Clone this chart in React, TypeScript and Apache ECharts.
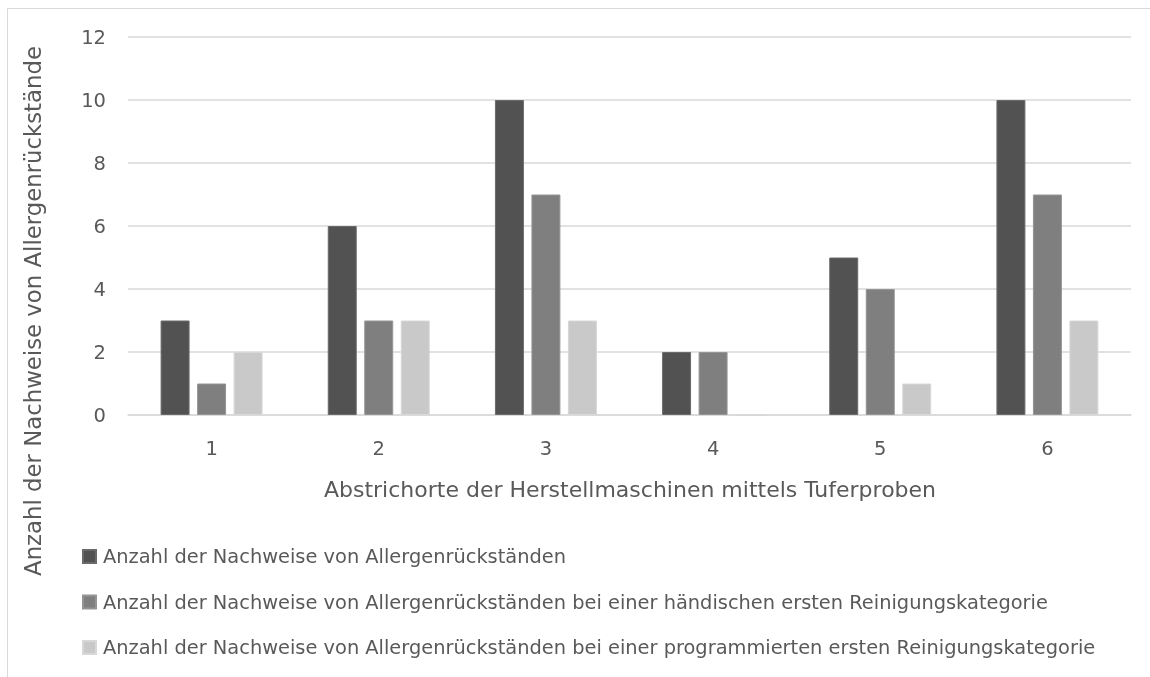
import React, { useEffect, useRef } from "react";
import * as echarts from "echarts";

const categories = ["1", "2", "3", "4", "5", "6"];
const seriesNames = [
  "Anzahl der Nachweise von Allergenrückständen",
  "Anzahl der Nachweise von Allergenrückständen bei einer händischen ersten Reinigungskategorie",
  "Anzahl der Nachweise von Allergenrückständen bei einer programmierten ersten Reinigungskategorie",
];
const totalValues = [3, 6, 10, 2, 5, 10];
const manualValues = [1, 3, 7, 2, 4, 7];
const programmedValues = [2, 3, 3, 0, 1, 3];
const seriesColors = ["#525252", "#7f7f7f", "#c9c9c9"];
const borderColors = ["#6a6a6a", "#959595", "#d8d8d8"];

const yAxisTitle = "Anzahl der Nachweise von Allergenrückstände";
const xAxisTitle = "Abstrichorte der Herstellmaschinen mittels Tuferproben";

const FONT = "'DejaVu Sans', sans-serif";
const TEXT = "#595959";

export default function App() {
  const ref = useRef<HTMLDivElement>(null);

  useEffect(() => {
    if (!ref.current) return;
    const chart = echarts.init(ref.current, undefined, { renderer: "svg" });
    const values = [totalValues, manualValues, programmedValues];
    chart.setOption({
      animation: false,
      textStyle: { fontFamily: FONT },
      grid: { left: 128, right: 19, top: 37, bottom: 262, containLabel: false },
      xAxis: {
        type: "category",
        data: categories,
        axisLine: { show: true, lineStyle: { color: "#d9d9d9", width: 1.5 } },
        axisTick: { show: false },
        axisLabel: { color: TEXT, fontSize: 19.5, fontFamily: FONT, margin: 23 },
      },
      yAxis: {
        type: "value",
        min: 0,
        max: 12,
        interval: 2,
        axisLine: { show: false },
        axisTick: { show: false },
        axisLabel: { color: TEXT, fontSize: 19.5, fontFamily: FONT, margin: 22 },
        splitLine: { lineStyle: { color: "#d9d9d9", width: 1.5 } },
      },
      legend: {
        orient: "vertical",
        left: 77,
        top: 542,
        itemWidth: 13,
        itemHeight: 13,
        itemGap: 26.5,
        icon: "rect",
        textStyle: { color: TEXT, fontSize: 19.4, fontFamily: FONT, padding: [0, 0, 0, 2] },
        data: seriesNames,
      },
      graphic: [
        { type: "line", shape: { x1: 7.5, y1: 8.5, x2: 1150, y2: 8.5 }, style: { stroke: "#d9d9d9", lineWidth: 1 } },
        { type: "line", shape: { x1: 7.5, y1: 8.5, x2: 7.5, y2: 677 }, style: { stroke: "#d9d9d9", lineWidth: 1 } },
        {
          type: "text",
          x: 33,
          y: 311,
          rotation: Math.PI / 2,
          style: {
            text: yAxisTitle,
            fill: TEXT,
            font: `22.8px ${FONT}`,
            textAlign: "center",
            textVerticalAlign: "middle",
          },
        },
        {
          type: "text",
          x: 630,
          y: 489,
          style: {
            text: xAxisTitle,
            fill: TEXT,
            font: `22px ${FONT}`,
            textAlign: "center",
            textVerticalAlign: "middle",
          },
        },
      ],
      series: seriesNames.map((name, i) => ({
        name,
        type: "bar",
        data: values[i],
        barGap: "26%",
        barCategoryGap: "39%",
        itemStyle: { color: seriesColors[i], borderColor: borderColors[i], borderWidth: 1 },
      })),
    });
    return () => chart.dispose();
  }, []);

  return (
    <div
      ref={ref}
      style={{ position: "fixed", left: 0, top: 0, width: 1150, height: 677 }}
    />
  );
}
